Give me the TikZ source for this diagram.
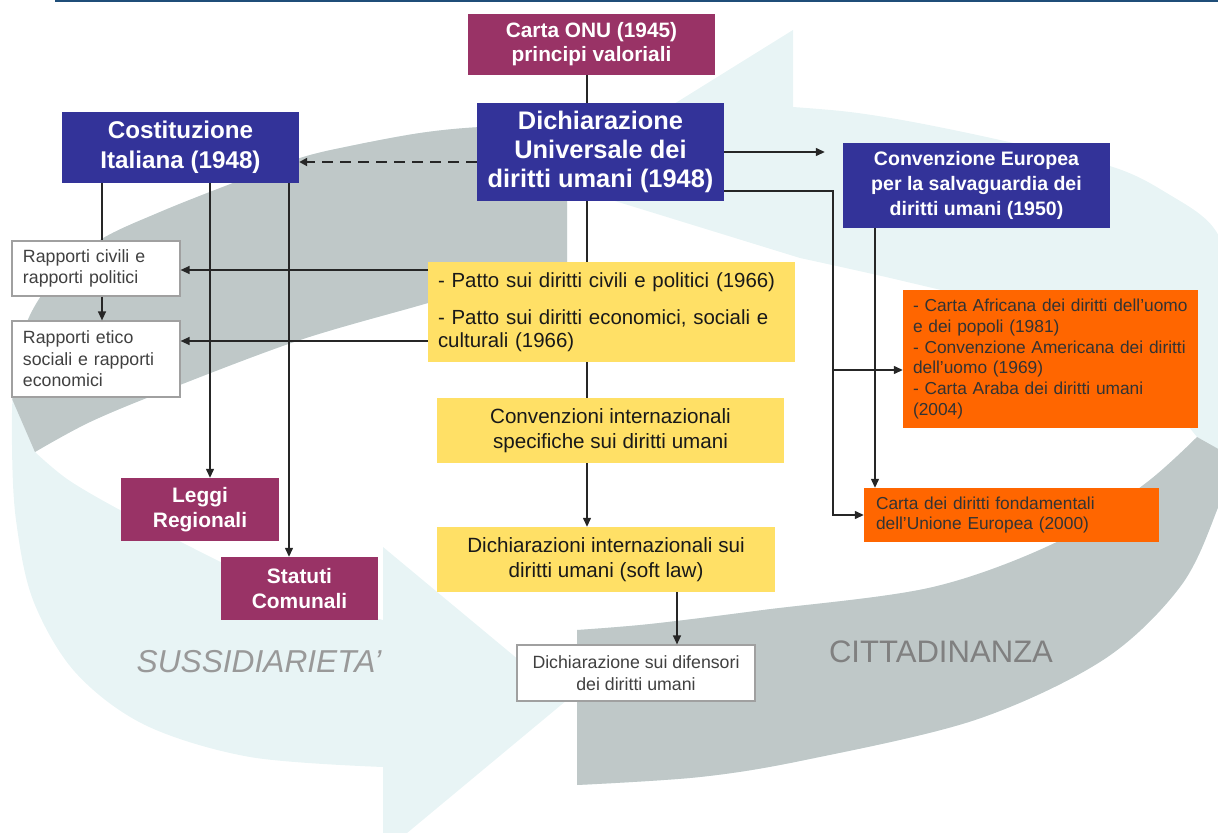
\documentclass[tikz,border=0pt]{standalone}
\usepackage{fontspec}
\setmainfont{Liberation Sans}
\usepackage{tikz}
\usetikzlibrary{arrows.meta}
\definecolor{blu}{HTML}{333399}
\definecolor{viola}{HTML}{993366}
\definecolor{giallo}{HTML}{FFE066}
\definecolor{arancio}{HTML}{FF6600}
\definecolor{grigiofr}{HTML}{BFC8C8}
\definecolor{celeste}{HTML}{E8F4F5}
\definecolor{bordo}{HTML}{A0A0A0}
\definecolor{riga}{HTML}{1F4E79}

% le due frecce circolari di sfondo
\newcommand{\frecciaSus}{plot[smooth,tension=0.55] coordinates {(567,124) (480,127) (420,133) (350,146) (300,158) (233,183) (160,212) (100,240) (55,278) (27,322) (14,380) (12,445) (16,520) (33,600) (75,672) (145,725) (250,757) (383,767)} -- (383,853) -- (567,700) -- (383,547) -- plot[smooth,tension=0.55] coordinates {(383,620) (300,597) (233,568) (133,517) (70,481) (35,452)} -- plot[smooth,tension=0.55] coordinates {(35,452) (90,422) (167,390) (300,340) (428,303) (500,281) (567,262)} -- cycle}
\newcommand{\frecciaCit}{plot[smooth,tension=0.55] coordinates {(577,785) (700,777) (805,760) (975,720) (1103,660) (1180,587) (1217,510) (1238,440) (1243,360) (1235,280) (1213,227) (1170,195) (1113,167) (1000,140) (913,122) (850,112) (793,107)} -- (793,30) -- (550,181) -- plot[smooth,tension=0.55] coordinates {(800,258) (903,281) (1000,306) (1080,340) (1150,385) (1197,437)} -- plot[smooth,tension=0.55] coordinates {(1197,437) (1146,483) (1061,540) (933,587) (763,610) (650,624) (577,630)} -- cycle}

\begin{document}
\begin{tikzpicture}[x=1bp,y=-1bp,
		pblu/.style={fill=blu,text=white,align=center},
		pviola/.style={fill=viola,text=white,align=center,font=\fontsize{21}{24.5}\selectfont\bfseries},
		pgiallo/.style={fill=giallo,text=black!90,font=\fontsize{20.7}{24.5}\selectfont},
		pbianco/.style={fill=white,draw=bordo,line width=1.2bp,text=black!75,font=\fontsize{17.8}{21.5}\selectfont},
		parancio/.style={fill=arancio,text=black!80,align=left,font=\fontsize{17.4}{21}\selectfont},
		linea/.style={line width=1.3bp,draw=black!85},
		freccia/.style={linea,-{Triangle[length=9bp,width=8bp]}},
		tratto/.style={line width=2.8bp,draw=black!85,dash pattern=on 11bp off 7bp,-{Triangle[length=8bp,width=8bp]}}]
		\useasboundingbox (0,0) rectangle (1218,833);
		
		% sfondo
		\begin{scope}
			\clip (0,0) rectangle (1218,833);
			\fill[celeste] \frecciaSus;
			\begin{scope}
				\clip \frecciaSus;
				\fill[grigiofr] (35,452) -- (-10,348) -- (-10,-10) -- (700,-10) -- (700,400) -- cycle;
			\end{scope}
			\fill[celeste] \frecciaCit;
			\begin{scope}
				\clip \frecciaCit;
				\fill[grigiofr] (1197,437) -- (1300,495) -- (1300,900) -- (500,900) -- (500,450) -- cycle;
			\end{scope}
		\end{scope}
		\draw[riga,line width=2.5bp] (55,1) -- (1218,1);
		\node[font=\fontsize{31.8}{36}\selectfont\itshape,text=black!40] (sus) at (259,662) {SUSSIDIARIETA'};
		\node[font=\fontsize{31.2}{36}\selectfont,text=black!50] (citt) at (941,652) {CITTADINANZA};
		
		% caselle
		\node[pviola,minimum width=247bp,minimum height=61bp,font=\fontsize{20.9}{24}\selectfont\bfseries] (onu) at (591.5,44.5) {Carta ONU (1945)\\principi valoriali};
		\node[pblu,minimum width=247bp,minimum height=98bp,font=\fontsize{25.5}{29}\selectfont\bfseries] (dudu) at (600.5,152) {Dichiarazione\\Universale dei\\diritti umani (1948)};
		\node[pblu,minimum width=237bp,minimum height=71bp,font=\fontsize{24.3}{30}\selectfont\bfseries] (cost) at (180.5,147.5) {Costituzione\\Italiana (1948)};
		\node[pblu,minimum width=267bp,minimum height=85bp,font=\fontsize{19.6}{25}\selectfont\bfseries] (cedu) at (976.5,185.5) {Convenzione Europea\\per la salvaguardia dei\\diritti umani (1950)};
		\node[pbianco,minimum height=55bp,text width=146bp,inner xsep=11bp,align=left] (civ) at (96,268.5) {Rapporti civili e\\rapporti politici};
		\node[pbianco,minimum height=76bp,text width=146bp,inner xsep=11bp,align=left] (etico) at (96,359) {Rapporti etico\\sociali e rapporti\\economici};
		\node[pgiallo,minimum height=100bp,text width=347bp,inner xsep=10bp,align=left,font=\fontsize{20.5}{23}\selectfont] (patti) at (611.5,312) {- Patto sui diritti civili e politici (1966)\\[14bp]- Patto sui diritti economici, sociali e\\culturali (1966)};
		\node[pgiallo,minimum width=347bp,minimum height=65bp,align=center] (conv) at (610.5,430.5) {Convenzioni internazionali\\specifiche sui diritti umani};
		\node[pgiallo,minimum width=338bp,minimum height=65bp,align=center] (soft) at (606,559.5) {Dichiarazioni internazionali sui\\diritti umani (soft law)};
		\node[pbianco,minimum width=238bp,minimum height=56bp,align=center] (difens) at (636,673) {Dichiarazione sui difensori\\dei diritti umani};
		\node[pviola,minimum width=158bp,minimum height=63bp] (leggi) at (200,509.5) {Leggi\\Regionali};
		\node[pviola,minimum width=157bp,minimum height=63bp] (statuti) at (299.5,588.5) {Statuti\\Comunali};
		\node[parancio,minimum height=138bp,text width=275bp,inner xsep=10bp] (afr) at (1050.5,359) {- Carta Africana dei diritti dell'uomo\\e dei popoli (1981)\\- Convenzione Americana dei diritti\\dell'uomo (1969)\\- Carta Araba dei diritti umani\\(2004)};
		\node[parancio,minimum height=54bp,text width=271bp,inner xsep=12bp] (ue) at (1011.5,515) {Carta dei diritti fondamentali\\dell'Unione Europea (2000)};
		
		% collegamenti
		\coordinate (asse) at (587,0);
		\coordinate (asse2) at (677,0);
		\coordinate (vcedu) at (875,0);
		\coordinate (bivio) at (833,191);
		\coordinate (ramo) at (833,370);
		\coordinate (hcost) at (0,162);
		\coordinate (hciv) at (0,270);
		\coordinate (heti) at (0,341);
		\coordinate (c1) at (102,0);
		\draw[linea] (onu.south -| asse) -- (dudu.north -| asse);
		\draw[linea] (dudu.south -| asse) -- (patti.north -| asse);
		\draw[linea] (patti.south -| asse) -- (conv.north -| asse);
		\draw[freccia] (conv.south -| asse) -- (soft.north -| asse);
		\draw[freccia] (soft.south -| asse2) -- (difens.north -| asse2);
		\draw[tratto] (dudu.west |- hcost) -- (cost.east |- hcost);
		\draw[freccia,shorten >=18bp] (dudu.east) -- (dudu.east -| cedu.west);
		\draw[freccia] (dudu.east |- bivio) -- (bivio) |- (ue.west);
		\draw[freccia] (ramo) -- (ramo -| afr.west);
		\draw[freccia] (cedu.south -| vcedu) -- (ue.north -| vcedu);
		\foreach \xx/\dove/\tipo in {102/civ/linea,210/leggi/freccia,289/statuti/freccia}{
			\coordinate (k) at (\xx,0);
			\draw[\tipo] (cost.south -| k) -- (\dove.north -| k);
		}
		\draw[freccia] (civ.south -| c1) -- (etico.north -| c1);
		\draw[freccia] (patti.west |- hciv) -- (civ.east |- hciv);
		\draw[freccia] (patti.west |- heti) -- (etico.east |- heti);
	\end{tikzpicture}
\end{document}
